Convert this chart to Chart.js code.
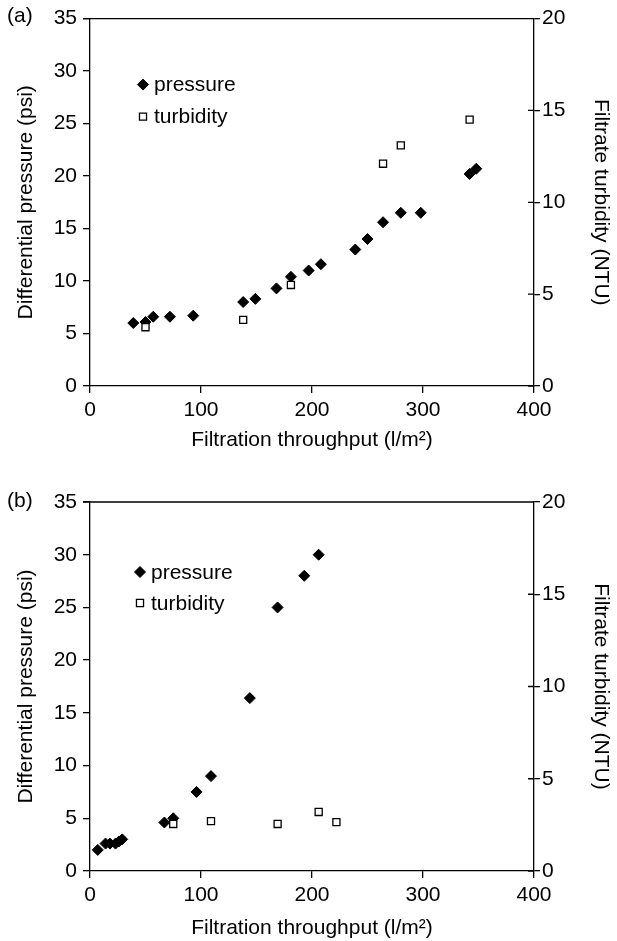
<!DOCTYPE html>
<html>
<head>
<meta charset="utf-8">
<script src="https://cdn.jsdelivr.net/npm/chart.js@4.4.1/dist/chart.umd.min.js"></script>
<style>
  html, body { margin: 0; padding: 0; background: #fff; }
  body { width: 617px; height: 941px; position: relative; overflow: hidden; font-family: "Liberation Sans", Arial, sans-serif; }
  canvas { position: absolute; left: 0; }
  .tag { position: absolute; left: 7px; font-size: 21px; color: #000; }
</style>
</head>
<body>
<canvas id="chartA" width="617" height="470" style="top:0"></canvas>
<canvas id="chartB" width="617" height="471" style="top:470px"></canvas>
<div class="tag" style="top:3px">(a)</div>
<div class="tag" style="top:488px">(b)</div>
<script>
// (a) pression et turbidité en fonction du débit filtré
const throughputA = [39, 50, 57, 72, 93, 138, 149, 168, 181, 197, 208, 239, 250, 264, 280, 298, 342, 348];
const pressureA = [6.0, 6.1, 6.6, 6.6, 6.7, 8.0, 8.3, 9.3, 10.4, 11.0, 11.6, 13.0, 14.0, 15.6, 16.5, 16.5, 20.2, 20.7];
const turbThroughputA = [50, 138, 181, 264, 280, 342];
const turbidityA = [3.2, 3.6, 5.5, 12.1, 13.1, 14.5];

// (b)
const throughputB = [7, 14, 18, 23, 26, 29, 67, 75, 96, 109, 144, 169, 193, 206];
const pressureB = [2.0, 2.6, 2.6, 2.6, 2.8, 3.0, 4.6, 5.0, 7.5, 9.0, 16.4, 25.0, 28.0, 30.0];
const turbThroughputB = [75, 109, 169, 206, 222];
const turbidityB = [2.55, 2.7, 2.55, 3.2, 2.65];

const seriesLabels = ["pressure", "turbidity"];
const xTitle = "Filtration throughput (l/m\u00b2)";
const yTitle = "Differential pressure (psi)";
const y2Title = "Filtrate turbidity (NTU)";

Chart.defaults.font.family = '"Liberation Sans", Arial, sans-serif';
Chart.defaults.font.size = 21;
Chart.defaults.color = "#000";

// Cadre du haut, petits traits intérieurs de l'axe droit et légende dans la zone du graphique
const cadrePlugin = {
    id: "cadre",
    afterDraw(chart, args, opts) {
        const { ctx, chartArea: a } = chart;
        const y2 = chart.scales.y2;
        ctx.save();
        ctx.strokeStyle = "#000";
        ctx.lineWidth = 1.3;
        ctx.beginPath();
        ctx.moveTo(a.left - 7, a.top);
        ctx.lineTo(a.right, a.top);
        y2.ticks.forEach((t, i) => {
            const py = y2.getPixelForTick(i);
            ctx.moveTo(a.right - 6, py);
            ctx.lineTo(a.right, py);
        });
        ctx.stroke();

        // légende
        ctx.font = '21px "Liberation Sans", Arial, sans-serif';
        ctx.textBaseline = "middle";
        ctx.fillStyle = "#000";
        chart.data.datasets.slice().sort((d1, d2) => d1.legendIndex - d2.legendIndex).forEach((ds, i) => {
            const mx = a.left + opts.dx;
            const my = a.top + opts.dy + i * opts.gap;
            ctx.fillStyle = ds.backgroundColor;
            ctx.strokeStyle = ds.borderColor;
            ctx.lineWidth = ds.borderWidth;
            Chart.helpers.drawPoint(ctx, { pointStyle: ds.pointStyle, radius: ds.pointRadius, borderWidth: ds.borderWidth, rotation: 0 }, mx, my);
            ctx.fillStyle = "#000";
            ctx.fillText(ds.label, mx + 11, my + 1);
        });
        ctx.restore();
    }
};

function axe(position, min, max, title, titlePad, width) {
    return {
        type: "linear",
        position: position,
        min: min,
        max: max,
        title: { display: true, text: title, padding: { top: titlePad, bottom: 0 } },
        ticks: { stepSize: 5, padding: position === "left" ? 6 : 2 },
        grid: { drawOnChartArea: false, drawTicks: true, tickLength: position === "left" ? 7 : 6, color: "#000", lineWidth: 1.3 },
        border: { display: true, color: "#000", width: 1.3 },
        afterFit: (s) => { s.width = width; }
    };
}

function creerGraphique(id, px, py, tx, ty, haut, hautX, titreBas, legende) {
    const pressionPts = px.map((x, i) => ({ x: x, y: py[i] }));
    const turbPts = tx.map((x, i) => ({ x: x, y: ty[i] }));
    return new Chart(document.getElementById(id), {
        type: "scatter",
        data: {
            datasets: [
                {
                    label: seriesLabels[1], legendIndex: 1, data: turbPts, yAxisID: "y2",
                    pointStyle: "rect", pointRadius: 5, pointHoverRadius: 5,
                    backgroundColor: "#fff", borderColor: "#000", borderWidth: 1.3, order: 0
                },
                {
                    label: seriesLabels[0], legendIndex: 0, data: pressionPts, yAxisID: "y",
                    pointStyle: "rectRot", pointRadius: 5.5, pointHoverRadius: 5.5,
                    backgroundColor: "#000", borderColor: "#000", borderWidth: 1, order: 1
                }
            ]
        },
        options: {
            responsive: false,
            animation: false,
            layout: { padding: { top: haut, left: 0, right: 0, bottom: 0 } },
            plugins: { legend: { display: false }, tooltip: { enabled: false }, cadre: legende },
            scales: {
                x: {
                    type: "linear", position: "bottom", min: 0, max: 400,
                    title: { display: true, text: xTitle, padding: { top: 0, bottom: titreBas } },
                    ticks: { stepSize: 100, padding: 5, maxRotation: 0 },
                    grid: { drawOnChartArea: false, drawTicks: true, tickLength: 7, color: "#000", lineWidth: 1.3 },
                    border: { display: true, color: "#000", width: 1.3 },
                    afterFit: (s) => { s.height = hautX; }
                },
                y: axe("left", 0, 35, yTitle, 14, 90),
                y2: axe("right", 0, 20, y2Title, 4, 83)
            }
        },
        plugins: [cadrePlugin]
    });
}

creerGraphique("chartA", throughputA, pressureA, turbThroughputA, turbidityA, 17, 84, 17, { dx: 53, dy: 66, gap: 32 });
creerGraphique("chartB", throughputB, pressureB, turbThroughputB, turbidityB, 32, 70, 0, { dx: 50, dy: 70, gap: 31 });
</script>
</body>
</html>
